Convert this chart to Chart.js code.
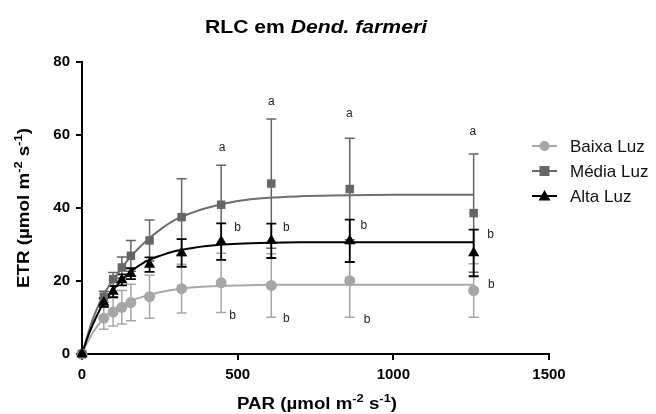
<!DOCTYPE html>
<html><head><meta charset="utf-8">
<script src="https://cdn.jsdelivr.net/npm/chart.js@4/dist/chart.umd.min.js"></script>
<style>html,body{margin:0;padding:0;background:#fff}#wrap{width:656px;height:414px}</style>
</head><body><div id="wrap"><canvas id="c" width="656" height="414"></canvas></div>
<script>
// ---- data ----
const par = [0, 70, 100, 128, 157, 217, 320, 447, 608, 860, 1258];
const baixa    = [0, 9.8, 11.5, 12.8, 14.1, 15.7, 17.9, 19.5, 18.8, 20.1, 17.4];
const baixaErr = [0, 3.0, 3.8, 4.6, 5.0, 5.9, 6.7, 8.1, 8.7, 10.0, 7.3];
const media    = [0, 15.7, 20.5, 23.7, 26.9, 31.1, 37.5, 40.9, 46.7, 45.2, 38.6];
const mediaErr = [0, 1.5, 1.8, 2.9, 4.2, 5.6, 10.5, 10.8, 17.7, 13.9, 16.2];
const alta     = [0, 14.1, 17.1, 20.3, 22.0, 24.5, 27.7, 30.8, 31.0, 31.0, 27.7];
const altaErr  = [0, 1.2, 1.5, 1.5, 1.5, 2.0, 3.8, 5.0, 4.7, 5.8, 6.4];

const fitPar   = [0, 10, 20, 35, 50, 70, 100, 130, 160, 200, 250, 300, 350, 400, 500, 600, 700, 800, 1000, 1258];
const baixaFit = [0, 1.9, 3.6, 5.9, 7.7, 9.9, 12.0, 13.5, 14.7, 15.8, 16.9, 17.7, 18.2, 18.5, 18.8, 18.95, 19.0, 19.0, 19.0, 19.0];
const mediaFit = [0, 2.9, 5.7, 9.6, 12.8, 16.4, 20.2, 23.8, 27.0, 30.5, 34.0, 36.8, 38.6, 40.0, 41.9, 42.8, 43.2, 43.4, 43.6, 43.6];
const altaFit  = [0, 2.6, 5.0, 8.1, 10.9, 14.1, 17.5, 20.5, 22.8, 25.1, 26.9, 28.2, 29.0, 29.6, 30.2, 30.5, 30.6, 30.6, 30.6, 30.6];

const letterText = ['a', 'a', 'a', 'a', 'b', 'b', 'b', 'b', 'b', 'b', 'b', 'b'];
const letterPar  = [450, 608, 859, 1255, 500, 656, 905, 1312, 484, 656, 916, 1315];
const letterEtr  = [56.6, 69.0, 65.9, 61.0, 34.5, 34.5, 35.1, 32.7, 10.4, 9.8, 9.3, 19.0];

const xTicks = [0, 500, 1000, 1500];
const yTicks = [0, 20, 40, 60, 80];
const seriesNames = ['Baixa Luz', 'Média Luz', 'Alta Luz'];
const titleA = 'RLC em ', titleB = 'Dend. farmeri';
const xTitle = [['PAR (µmol m', false], ['-2', true], [' s', false], ['-1', true], [')', false]];
const yTitle = [['ETR (µmol m', false], ['-2', true], [' s', false], ['-1', true], [')', false]];

// ---- styles ----
const FONT = '"Liberation Sans", Arial, Helvetica, sans-serif';
const C_BAIXA = '#a6a6a6', C_BAIXA_LINE = '#a9a9a9';
const C_MEDIA = '#666666', C_MEDIA_LINE = '#6e6e6e';
const C_ALTA = '#000000';

function pts(xs, ys) { return xs.map((x, i) => ({x: x, y: ys[i]})); }

const pointSets = [
  {label: seriesNames[0], data: pts(par, baixa), err: baixaErr, color: C_BAIXA, style: 'circle', r: 5.5, ew: 1.5},
  {label: seriesNames[1], data: pts(par, media), err: mediaErr, color: C_MEDIA, style: 'rect', r: 6, ew: 1.5},
  {label: seriesNames[2], data: pts(par, alta), err: altaErr, color: C_ALTA, style: 'triangle', r: 6.5, ew: 1.8}
];

// draws rich text (parts: [text, isSuperscript, italic]) centred on cx, stretched to width w
function drawRichFit(ctx, parts, cx, baseY, size, w) {
  const fontOf = p => (p[2] ? 'italic ' : '') + 'bold ' + (p[1] ? Math.round(size * 0.66) : size) + 'px ' + FONT;
  let total = 0;
  const m = parts.map(p => { ctx.font = fontOf(p); const ww = ctx.measureText(p[0]).width; total += ww; return ww; });
  const sx = w / total;
  ctx.save();
  ctx.translate(cx - w / 2, baseY);
  ctx.scale(sx, 1);
  ctx.textAlign = 'left'; ctx.textBaseline = 'alphabetic';
  let x = 0;
  parts.forEach((p, i) => {
    ctx.font = fontOf(p);
    ctx.fillText(p[0], x, p[1] ? -size * 0.42 : 0);
    x += m[i];
  });
  ctx.restore();
}

const decor = {
  id: 'decor',
  beforeDatasetsDraw(chart) {
    const ctx = chart.ctx, xs = chart.scales.x, ys = chart.scales.y;
    ctx.save();
    pointSets.forEach(s => {
      ctx.strokeStyle = s.color; ctx.lineWidth = s.ew;
      s.data.forEach((p, i) => {
        const e = s.err[i]; if (!e) return;
        const px = xs.getPixelForValue(p.x);
        const y1 = ys.getPixelForValue(p.y + e), y2 = ys.getPixelForValue(p.y - e);
        ctx.beginPath();
        ctx.moveTo(px, y1); ctx.lineTo(px, y2);
        ctx.moveTo(px - 5, y1); ctx.lineTo(px + 5, y1);
        ctx.moveTo(px - 5, y2); ctx.lineTo(px + 5, y2);
        ctx.stroke();
      });
    });
    ctx.restore();
  },
  afterDraw(chart) {
    const ctx = chart.ctx, xs = chart.scales.x, ys = chart.scales.y;
    ctx.save();
    ctx.fillStyle = '#000';
    // title
    drawRichFit(ctx, [[titleA, false, false], [titleB, false, true]], 316, 33, 18, 222);
    // axis titles
    drawRichFit(ctx, xTitle, 317, 409, 16, 160);
    ctx.save();
    ctx.translate(28.5, 208);
    ctx.rotate(-Math.PI / 2);
    drawRichFit(ctx, yTitle, 0, 0, 16, 160);
    ctx.restore();
    // letters
    ctx.font = '12px ' + FONT; ctx.fillStyle = '#222';
    ctx.textAlign = 'center'; ctx.textBaseline = 'middle';
    letterText.forEach((t, i) => ctx.fillText(t, xs.getPixelForValue(letterPar[i]), ys.getPixelForValue(letterEtr[i])));
    // legend
    const ly = [146, 171, 196];
    pointSets.forEach((s, i) => {
      ctx.strokeStyle = s.color; ctx.fillStyle = s.color; ctx.lineWidth = 2;
      ctx.beginPath(); ctx.moveTo(532, ly[i]); ctx.lineTo(557, ly[i]); ctx.stroke();
      if (s.style === 'circle') { ctx.beginPath(); ctx.arc(544.5, ly[i], 5, 0, Math.PI * 2); ctx.fill(); }
      else if (s.style === 'rect') { ctx.fillRect(539.5, ly[i] - 5, 10, 10); }
      else { ctx.beginPath(); ctx.moveTo(544.5, ly[i] - 6); ctx.lineTo(550.5, ly[i] + 4.5); ctx.lineTo(538.5, ly[i] + 4.5); ctx.closePath(); ctx.fill(); }
      ctx.fillStyle = '#111'; ctx.font = '17px ' + FONT; ctx.textAlign = 'left'; ctx.textBaseline = 'middle';
      ctx.fillText(s.label, 570, ly[i] + 1);
    });
    ctx.restore();
  }
};

const datasets = [];
pointSets.forEach((s, i) => datasets.push({
  label: s.label, data: s.data, showLine: false, pointStyle: s.style, pointRadius: s.r,
  backgroundColor: s.color, borderColor: s.color, pointBorderWidth: 0, order: 3 - i, clip: false
}));
[[baixaFit, C_BAIXA_LINE, 6], [mediaFit, C_MEDIA_LINE, 5], [altaFit, C_ALTA, 4]].forEach(f => datasets.push({
  data: pts(fitPar, f[0]), showLine: true, pointRadius: 0, borderColor: f[1], borderWidth: 2,
  cubicInterpolationMode: 'monotone', fill: false, order: f[2], clip: false
}));

const axisCommon = {
  grid: {display: true, drawOnChartArea: false, drawTicks: true, tickLength: 6, color: '#000', lineWidth: 2},
  border: {display: true, color: '#000', width: 2},
  ticks: {color: '#000', font: {family: FONT, size: 15, weight: 'bold'}, padding: 6, callback: v => String(v)}
};

new Chart(document.getElementById('c'), {
  type: 'scatter',
  data: {datasets: datasets},
  options: {
    responsive: false, animation: false, devicePixelRatio: 1,
    layout: {padding: {left: 0, right: 107, top: 62, bottom: 0}},
    plugins: {legend: {display: false}, tooltip: {enabled: false}, title: {display: false}},
    scales: {
      x: Object.assign({}, axisCommon, {
        type: 'linear', min: 0, max: 1500,
        afterBuildTicks: s => { s.ticks = xTicks.map(v => ({value: v})); },
        afterFit: s => { s.height = 60; }
      }),
      y: Object.assign({}, axisCommon, {
        type: 'linear', min: 0, max: 80,
        afterBuildTicks: s => { s.ticks = yTicks.map(v => ({value: v})); },
        afterFit: s => { s.width = 82; }
      })
    }
  },
  plugins: [decor]
});
</script></body></html>
